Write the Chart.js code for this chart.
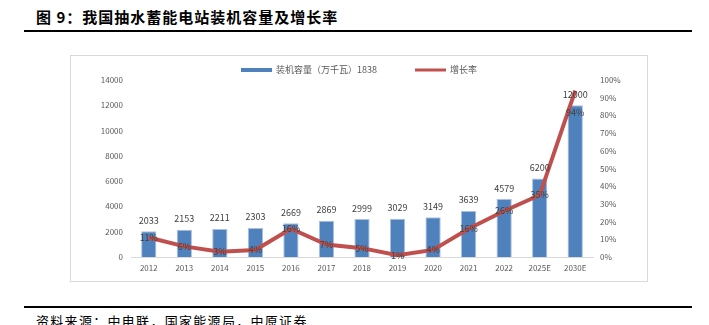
<!DOCTYPE html>
<html>
<head>
<meta charset="utf-8">
<script src="https://cdn.jsdelivr.net/npm/chart.js@4/dist/chart.umd.min.js"></script>
<style>
  html,body{margin:0;padding:0;background:#fff;width:709px;height:325px;overflow:hidden;}
  #title{position:absolute;left:36px;top:7px;font-family:"Noto Sans CJK SC",sans-serif;font-weight:bold;font-size:15px;letter-spacing:1px;color:#000;line-height:20px;white-space:nowrap;}
  .rule{position:absolute;left:24px;width:668px;height:2px;background:#000;}
  #box{position:absolute;left:70px;top:55px;width:576px;height:225px;border:1px solid #d9d9d9;box-sizing:content-box;}
  #wrap{position:absolute;left:0;top:0;width:576px;height:225px;}
  #foot{position:absolute;left:36px;top:312px;font-family:"Noto Sans CJK SC",sans-serif;font-size:13px;letter-spacing:1.3px;color:#000;line-height:18px;white-space:nowrap;}
</style>
</head>
<body>
<div id="title">图 9：我国抽水蓄能电站装机容量及增长率</div>
<div class="rule" style="top:30px"></div>
<div id="box"><div id="wrap"><canvas id="c"></canvas></div></div>
<div class="rule" style="top:306px"></div>
<div id="foot">资料来源：中电联，国家能源局，中原证券</div>
<script>
const categories = ["2012","2013","2014","2015","2016","2017","2018","2019","2020","2021","2022","2025E","2030E"];
const capacity = [2033,2153,2211,2303,2669,2869,2999,3029,3149,3639,4579,6200,12000];
const growth = [11,6,3,4,16,7,5,1,4,16,26,35,94];
const leftTicks = [0,2000,4000,6000,8000,10000,12000,14000];
const rightTicks = [0,10,20,30,40,50,60,70,80,90,100];
const barLabel = "装机容量（万千瓦）1838";
const lineLabel = "增长率";

const FONT = "'Noto Sans CJK SC', 'DejaVu Sans', sans-serif";
const BAR_COLOR = '#4F81BD';
const LINE_COLOR = '#C0504D';
const TEXT_COLOR = '#595959';

const labelPlugin = {
  id: 'valueLabels',
  afterDatasetsDraw(chart){
    const ctx = chart.ctx;
    ctx.save();
    ctx.font = "9px " + FONT;
    ctx.fillStyle = "#404040";
    ctx.textAlign = "center";
    ctx.textBaseline = "middle";
    const mBar = chart.getDatasetMeta(1);
    mBar.data.forEach((el,i)=>{
      ctx.fillText(String(capacity[i]), el.x, el.y - 11);
    });
    const mLine = chart.getDatasetMeta(0);
    const last = mLine.data.length - 1;
    mLine.data.forEach((el,i)=>{
      const dy = (i === last) ? 22 : 0;
      ctx.fillText(growth[i] + "%", el.x, el.y + dy);
    });
    ctx.restore();
  },
  afterDraw(chart){
    // legend
    const ctx = chart.ctx;
    ctx.save();
    ctx.font = "9px " + FONT;
    const sw = 31, gapTxt = 4, gapItems = 38;
    const w1 = ctx.measureText(barLabel).width;
    const w2 = ctx.measureText(lineLabel).width;
    const total = sw + gapTxt + w1 + gapItems + sw + gapTxt + w2;
    let x = (chart.width - total) / 2;
    const y = 14;
    ctx.fillStyle = BAR_COLOR;
    ctx.fillRect(x, y - 2, sw, 4);
    x += sw + gapTxt;
    ctx.fillStyle = TEXT_COLOR;
    ctx.textBaseline = 'middle';
    ctx.textAlign = 'left';
    ctx.fillText(barLabel, x, y);
    x += w1 + gapItems;
    ctx.strokeStyle = LINE_COLOR;
    ctx.lineWidth = 3;
    ctx.beginPath();
    ctx.moveTo(x, y); ctx.lineTo(x + sw, y);
    ctx.stroke();
    x += sw + gapTxt;
    ctx.fillText(lineLabel, x, y);
    ctx.restore();
  }
};

new Chart(document.getElementById('c'), {
  data: {
    labels: categories,
    datasets: [
      {
        type: 'line',
        label: lineLabel,
        data: growth,
        yAxisID: 'y1',
        borderColor: LINE_COLOR,
        backgroundColor: LINE_COLOR,
        borderWidth: 4,
        pointRadius: 0,
        tension: 0,
        order: 0
      },
      {
        type: 'bar',
        label: barLabel,
        data: capacity,
        yAxisID: 'y',
        backgroundColor: BAR_COLOR,
        borderColor: '#A9C1E0',
        borderWidth: 1,
        categoryPercentage: 1,
        barPercentage: 0.43,
        order: 1
      }
    ]
  },
  options: {
    responsive: true,
    maintainAspectRatio: false,
    animation: false,
    layout: { padding: { left: 0, right: 0, top: 24, bottom: 4 } },
    plugins: {
      legend: { display: false },
      tooltip: { enabled: false }
    },
    scales: {
      x: {
        grid: { display: false, drawTicks: false },
        border: { display: true, color: '#d9d9d9', width: 1 },
        ticks: { color: TEXT_COLOR, font: { family: FONT, size: 8 }, padding: 6, maxRotation: 0 },
        afterFit(s){ s.height = 20; }
      },
      y: {
        position: 'left',
        min: 0, max: 14000,
        afterBuildTicks(s){ s.ticks = leftTicks.map(v=>({value:v})); },
        grid: { display: false, drawTicks: false },
        border: { display: false },
        ticks: { color: TEXT_COLOR, font: { family: FONT, size: 8 }, padding: 8, callback: v => String(v) },
        afterFit(s){ s.width = 60; }
      },
      y1: {
        position: 'right',
        min: 0, max: 100,
        afterBuildTicks(s){ s.ticks = rightTicks.map(v=>({value:v})); },
        grid: { display: false, drawTicks: false },
        border: { display: false },
        ticks: { color: TEXT_COLOR, font: { family: FONT, size: 8 }, padding: 7, callback: v => v + '%' },
        afterFit(s){ s.width = 54; }
      }
    }
  },
  plugins: [labelPlugin]
});
</script>
</body>
</html>
